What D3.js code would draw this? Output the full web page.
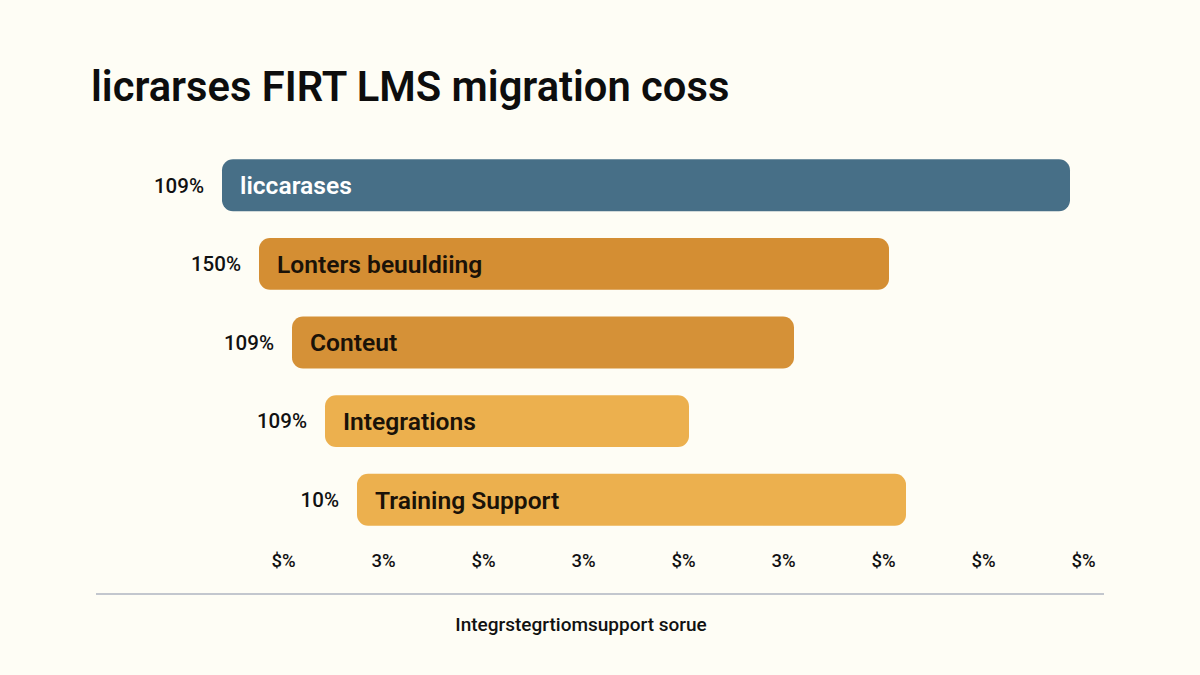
<!DOCTYPE html>
<html>
<head>
<meta charset="utf-8">
<script src="https://cdn.jsdelivr.net/npm/d3@7"></script>
<style>
  body { margin: 0; background: #fefdf5; }
  svg { display: block; font-family: Roboto, "Liberation Sans", Arial, sans-serif; }
</style>
</head>
<body>
<div id="chart-container"></div>
<script>
// Data (x units = tick steps)
const categories = ["liccarases", "Lonters beuuldiing", "Conteut", "Integrations", "Training Support"];
const pctLabels = ["109%", "150%", "109%", "109%", "10%"];
const barStart = [-0.61, -0.24, 0.09, 0.42, 0.74];
const barEnd = [7.87, 6.06, 5.11, 4.06, 6.23];
const barColors = ["#476f87", "#d48e33", "#d59137", "#ecb04e", "#ecb04e"];
const labelColors = ["#ffffff", "#1a1208", "#1a1208", "#1a1208", "#1a1208"];
const tickValues = [0, 1, 2, 3, 4, 5, 6, 7, 8];
const tickLabels = ["$%", "3%", "$%", "3%", "$%", "3%", "$%", "$%", "$%"];

const W = 1200, H = 675;
const font = "Roboto, 'Liberation Sans', Arial, sans-serif";

const svg = d3.select("#chart-container")
    .append("svg")
    .attr("width", W)
    .attr("height", H);

svg.append("rect")
    .attr("width", W)
    .attr("height", H)
    .attr("fill", "#fefdf5");

// Title
svg.append("text")
    .attr("x", 91)
    .attr("y", 101)
    .style("font-size", "41.7px")
    .style("font-weight", "600")
    .attr("fill", "#0d0d0d")
    .text("licrarses FIRT LMS migration coss");

const xScale = d3.scaleLinear()
    .domain([0, 8])
    .range([283, 1083]);

const yScale = d3.scaleBand()
    .domain(categories)
    .range([146, 539])
    .paddingInner(0.34)
    .paddingOuter(0.17);

const rows = categories.map((c, i) => ({
    name: c, pct: pctLabels[i], s: barStart[i], e: barEnd[i],
    color: barColors[i], lc: labelColors[i]
}));

// Bars
svg.selectAll(".bar")
    .data(rows)
    .enter()
    .append("rect")
    .attr("class", "bar")
    .attr("x", d => xScale(d.s))
    .attr("y", d => yScale(d.name))
    .attr("width", d => xScale(d.e) - xScale(d.s))
    .attr("height", yScale.bandwidth())
    .attr("rx", 11)
    .attr("fill", d => d.color);

// Labels inside bars
svg.selectAll(".bar-label")
    .data(rows)
    .enter()
    .append("text")
    .attr("class", "bar-label")
    .attr("x", d => xScale(d.s) + 18)
    .attr("y", d => yScale(d.name) + yScale.bandwidth() / 2)
    .attr("dy", "0.36em")
    .style("font-size", "24.6px")
    .style("font-weight", "600")
    .attr("fill", d => d.lc)
    .text(d => d.name);

// Percent labels left of bars
svg.selectAll(".pct-label")
    .data(rows)
    .enter()
    .append("text")
    .attr("class", "pct-label")
    .attr("x", d => xScale(d.s) - 18)
    .attr("y", d => yScale(d.name) + yScale.bandwidth() / 2)
    .attr("dy", "0.36em")
    .attr("text-anchor", "end")
    .style("font-size", "20.5px")
    .style("font-weight", "500")
    .attr("fill", "#111")
    .text(d => d.pct);

// X axis (tick labels only)
const xAxis = d3.axisBottom(xScale)
    .tickValues(tickValues)
    .tickSize(0)
    .tickPadding(0)
    .tickFormat((d, i) => tickLabels[i]);

const gx = svg.append("g")
    .attr("id", "x-axis")
    .attr("transform", "translate(0, 554)")
    .call(xAxis);
gx.select(".domain").remove();
gx.selectAll("text")
    .style("font-size", "18.5px")
    .style("font-weight", "500")
    .style("font-family", font)
    .attr("fill", "#111");

// Baseline rule
svg.append("line")
    .attr("x1", 96)
    .attr("x2", 1104)
    .attr("y1", 594)
    .attr("y2", 594)
    .attr("stroke", "#c3c7ce")
    .attr("stroke-width", 2);

// Axis title
svg.append("text")
    .attr("x", 581)
    .attr("y", 631)
    .attr("text-anchor", "middle")
    .style("font-size", "19px")
    .style("font-weight", "500")
    .attr("fill", "#111")
    .text("Integrstegrtiomsupport sorue");
</script>
</body>
</html>
